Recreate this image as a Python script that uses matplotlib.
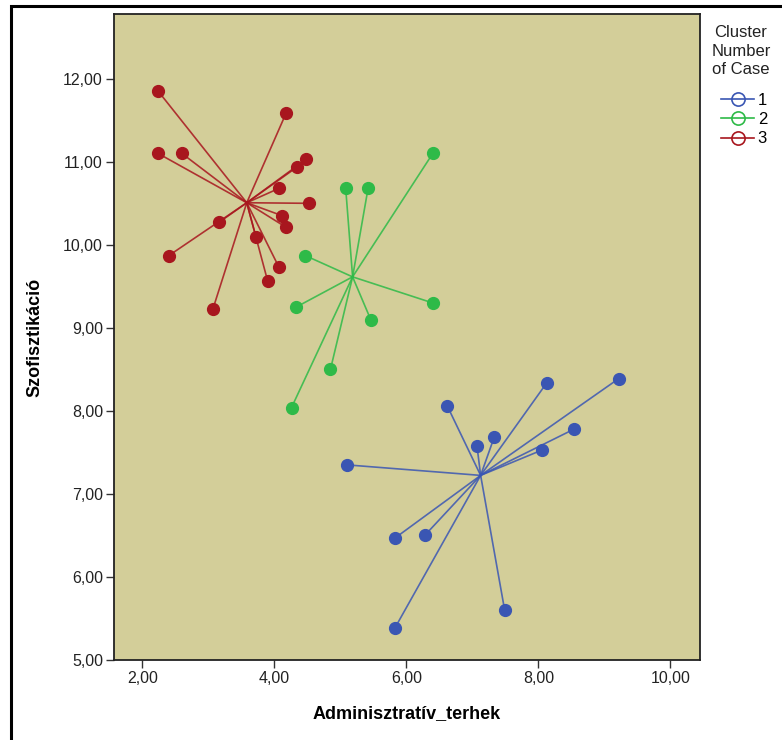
#!/usr/bin/env python3
# -*- coding: utf-8 -*-
"""
Cluster scatter with spokes from each case to its cluster center
"""
import matplotlib
matplotlib.use('Agg')
import matplotlib.pyplot as plt
from matplotlib.lines import Line2D
from matplotlib.patches import Rectangle
import numpy as np

# Cluster 1 (blue)
c1_x = [8.13, 9.22, 6.62, 8.54, 7.33, 7.07, 8.06, 5.10, 5.83, 6.29, 7.49, 5.83]
c1_y = [8.34, 8.39, 8.06, 7.78, 7.68, 7.58, 7.53, 7.35, 6.47, 6.51, 5.60, 5.39]
# Cluster 2 (green)
c2_x = [6.40, 5.08, 5.42, 4.47, 4.33, 6.40, 5.46, 4.85, 4.26]
c2_y = [11.10, 10.69, 10.68, 9.87, 9.25, 9.30, 9.10, 8.50, 8.04]
# Cluster 3 (red)
c3_x = [2.24, 4.18, 2.24, 2.60, 4.48, 4.35, 4.07, 4.53, 4.12, 4.18, 3.16,
        3.72, 2.40, 4.07, 3.90, 3.07]
c3_y = [11.85, 11.59, 11.10, 11.10, 11.03, 10.94, 10.68, 10.50, 10.35,
        10.21, 10.27, 10.10, 9.87, 9.73, 9.56, 9.23]

cluster_labels = ['1', '2', '3']
colors = ['#3a56b3', '#2eba48', '#a8161e']
x_ticks = [2, 4, 6, 8, 10]
y_ticks = [5, 6, 7, 8, 9, 10, 11, 12]

plt.rcParams['font.family'] = ['Liberation Sans', 'DejaVu Sans']

fig = plt.figure(figsize=(7.82, 7.40), dpi=100)
ax = fig.add_axes([114 / 782, 1 - 660 / 740, 586 / 782, 646 / 740])
ax.set_facecolor('#d3ce99')

clusters = [(c1_x, c1_y), (c2_x, c2_y), (c3_x, c3_y)]
for (xs, ys), col in zip(clusters, colors):
    xs = np.array(xs)
    ys = np.array(ys)
    cx, cy = xs.mean(), ys.mean()
    # spokes from cluster center to each case
    for x, y in zip(xs, ys):
        ax.plot([cx, x], [cy, y], color=col, lw=1.2, alpha=0.85, zorder=2)
    ax.plot(xs, ys, 'o', color=col, ms=8.5, mec=col, zorder=3)

ax.set_xlim(1.57, 10.45)
ax.set_ylim(5, 12.78)
ax.set_xticks(x_ticks)
ax.set_yticks(y_ticks)
ax.set_xticklabels([('%.2f' % t).replace('.', ',') for t in x_ticks])
ax.set_yticklabels([('%.2f' % t).replace('.', ',') for t in y_ticks])
ax.tick_params(direction='out', length=6, width=1, color='#333333',
               labelsize=11.5, labelcolor='#222222', pad=2)
for sp in ax.spines.values():
    sp.set_linewidth(1.3)
    sp.set_color('#222222')

ax.set_xlabel('Adminisztratív_terhek', fontsize=13, fontweight='bold',
              labelpad=14)
ax.set_ylabel('Szofisztikáció', fontsize=13, fontweight='bold', labelpad=14)

# legend: title as text, entries below it
fig.text(741 / 782, 1 - 25 / 740, 'Cluster\nNumber\nof Case', ha='center',
         va='top', fontsize=12, linespacing=1.3, color='#222222')
handles = [Line2D([0], [0], color=c, lw=1.2, marker='o', ms=9.5,
                  mfc='none', mec=c, mew=1.2) for c in colors]
leg = fig.legend(handles, cluster_labels, loc='upper left',
                 bbox_to_anchor=(721 / 782, 1 - 93 / 740),
                 frameon=False, fontsize=12, handlelength=2.0,
                 handletextpad=0.2, labelspacing=0.25, borderaxespad=0,
                 borderpad=0)

# outer frame, cropped at right and bottom
fig.patches.append(Rectangle((11 / 782, -0.1), 1.2, 1 - 6 / 740 + 0.1,
                             transform=fig.transFigure, fill=False,
                             edgecolor='black', lw=2.2))

fig.savefig('out.png', dpi=100)
